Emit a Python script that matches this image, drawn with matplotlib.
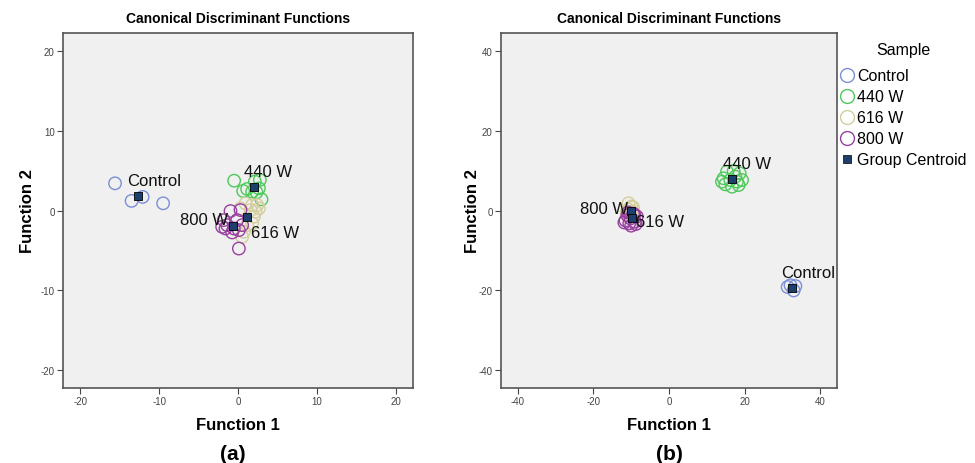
import numpy as np
import matplotlib.pyplot as plt
from matplotlib.lines import Line2D

groups = ["Control", "440 W", "616 W", "800 W"]
colors = ["#7a8fd6", "#4dc95a", "#d3ce9c", "#98409f"]
centroid_color = "#1c3f6e"

# panel (a) scores
a_f1 = {
    "Control": [-15.6, -13.5, -12.1, -9.5],
    "440 W": [-0.49, 0.66, 1.16, 2.14, 2.77, 2.65, 1.8, 2.98, 2.35],
    "616 W": [0.95, 1.8, 2.43, 2.22, 1.59, 2.01, 1.8, 1.16, 0.74, 0.53, 0.32, 2.65],
    "800 W": [-0.95, -1.8, -2.01, -1.38, -0.53, -0.74, 0.11, 0.53, -0.11, 0.32, -1.59, 0.11],
}
a_f2 = {
    "Control": [3.4, 1.2, 1.7, 0.9],
    "440 W": [3.73, 2.44, 2.69, 3.61, 3.82, 2.77, 2.35, 1.39, 2.27],
    "616 W": [0.89, 0.68, 0.68, -0.15, 0.05, -0.78, -1.62, -1.83, -2.66, -3.29, 0.26, 0.26],
    "800 W": [-0.07, -1.2, -2.04, -1.83, -2.25, -2.75, -2.46, -1.83, -1.2, 0.05, -2.25, -4.76],
}
a_cent_f1 = [-12.7, 2.0, 1.2, -0.6]
a_cent_f2 = [1.8, 3.0, -0.8, -1.9]

# panel (b) scores
b_f1 = {
    "Control": [31.35, 32.94, 33.4, 32.1],
    "440 W": [14.44, 15.33, 17.09, 18.68, 19.3, 18.4, 16.65, 14.89, 16.2, 17.53, 17.97, 14.0],
    "616 W": [-10.7, -9.5, -10.8, -9.3, -10.3, -11.2, -9.8, -10.0, -9.0, -10.8],
    "800 W": [-11.5, -10.5, -9.0, -8.5, -9.5, -11.0, -10.2, -8.8, -11.8, -10.0, -9.2, -10.8],
}
b_f2 = {
    "Control": [-19.14, -20.0, -18.9, -18.7],
    "440 W": [8.05, 9.72, 9.88, 9.3, 7.62, 6.37, 5.96, 6.54, 7.62, 8.47, 7.22, 7.22],
    "616 W": [1.8, 0.8, 0.3, -0.5, -1.0, -0.4, -0.2, 1.0, -1.2, -1.5],
    "800 W": [-2.5, -3.2, -2.8, -1.5, -0.8, -1.2, -2.0, -3.4, -3.0, -3.8, -1.0, -0.5],
}
b_cent_f1 = [32.5, 16.65, -10.0, -9.8]
b_cent_f2 = [-19.3, 8.0, -0.2, -1.8]

# label positions (x, y, ha)
a_labels = [("Control", -14.1, 3.8, "left"), ("440 W", 0.8, 4.9, "left"),
            ("616 W", 1.6, -2.8, "left"), ("800 W", -1.2, -1.1, "right")]
b_labels = [("Control", 29.7, -15.6, "left"), ("440 W", 14.3, 11.8, "left"),
            ("616 W", -8.6, -2.8, "left"), ("800 W", -10.7, 0.4, "right")]

W, H = 975, 464
plt.rcParams['font.family'] = ['Liberation Sans', 'DejaVu Sans']
plt.rcParams['axes.unicode_minus'] = False
fig = plt.figure(figsize=(W / 100, H / 100), dpi=100)

ax1 = fig.add_axes([63 / W, 1 - 389 / H, 350 / W, 355 / H])
ax2 = fig.add_axes([501 / W, 1 - 389 / H, 336 / W, 355 / H])


def draw(ax, f1, f2, cf1, cf2, labels, lim, ticks):
    ax.set_facecolor("#f0f0f0")
    for g, c in zip(groups, colors):
        ax.scatter(f1[g], f2[g], s=80, facecolors="none", edgecolors=c, linewidths=1.0, zorder=2)
    ax.scatter(cf1, cf2, marker="s", s=32, c=centroid_color, edgecolors="black", linewidths=0.6, zorder=3)
    for txt, x, y, ha in labels:
        ax.text(x, y, txt, ha=ha, va="center", fontsize=12, color="#111111", zorder=4)
    ax.set_xlim(-lim, lim)
    ax.set_ylim(-lim, lim)
    ax.set_xticks(ticks)
    ax.set_yticks(ticks)
    ax.tick_params(direction="out", length=4, width=0.8, labelsize=7, colors="#444444", pad=2)
    for s in ax.spines.values():
        s.set_color("#555555")
        s.set_linewidth(1.2)
    ax.set_title("Canonical Discriminant Functions", fontsize=10, fontweight="bold", pad=8)
    ax.set_xlabel("Function 1", fontsize=12, fontweight="bold", labelpad=8)


draw(ax1, a_f1, a_f2, a_cent_f1, a_cent_f2, a_labels, 22.2, [-20, -10, 0, 10, 20])
draw(ax2, b_f1, b_f2, b_cent_f1, b_cent_f2, b_labels, 44.4, [-40, -20, 0, 20, 40])
ax1.set_ylabel("Function 2", fontsize=12, fontweight="bold", labelpad=4)
ax2.set_ylabel("Function 2", fontsize=12, fontweight="bold", labelpad=-1)

fig.text(233 / W, 1 - 455 / H, "(a)", ha="center", va="center", fontsize=15, fontweight="bold")
fig.text(669 / W, 1 - 455 / H, "(b)", ha="center", va="center", fontsize=15, fontweight="bold")

handles = [Line2D([], [], ls="none", marker="o", ms=10, mfc="none", mec=c, mew=1.0) for c in colors]
handles.append(Line2D([], [], ls="none", marker="s", ms=5.5, mfc=centroid_color, mec="black", mew=0.5))
fig.text(903 / W, 1 - 50 / H, "Sample", ha="center", va="center", fontsize=11.5)
leg = fig.legend(handles, groups + ["Group Centroid"], loc="upper left",
                 bbox_to_anchor=(836 / W, 1 - 66 / H), frameon=False, fontsize=11.5,
                 handletextpad=0.1, handlelength=1.0,
                 labelspacing=0.38, borderaxespad=0, borderpad=0.2)

fig.savefig("out.png", dpi=100)
